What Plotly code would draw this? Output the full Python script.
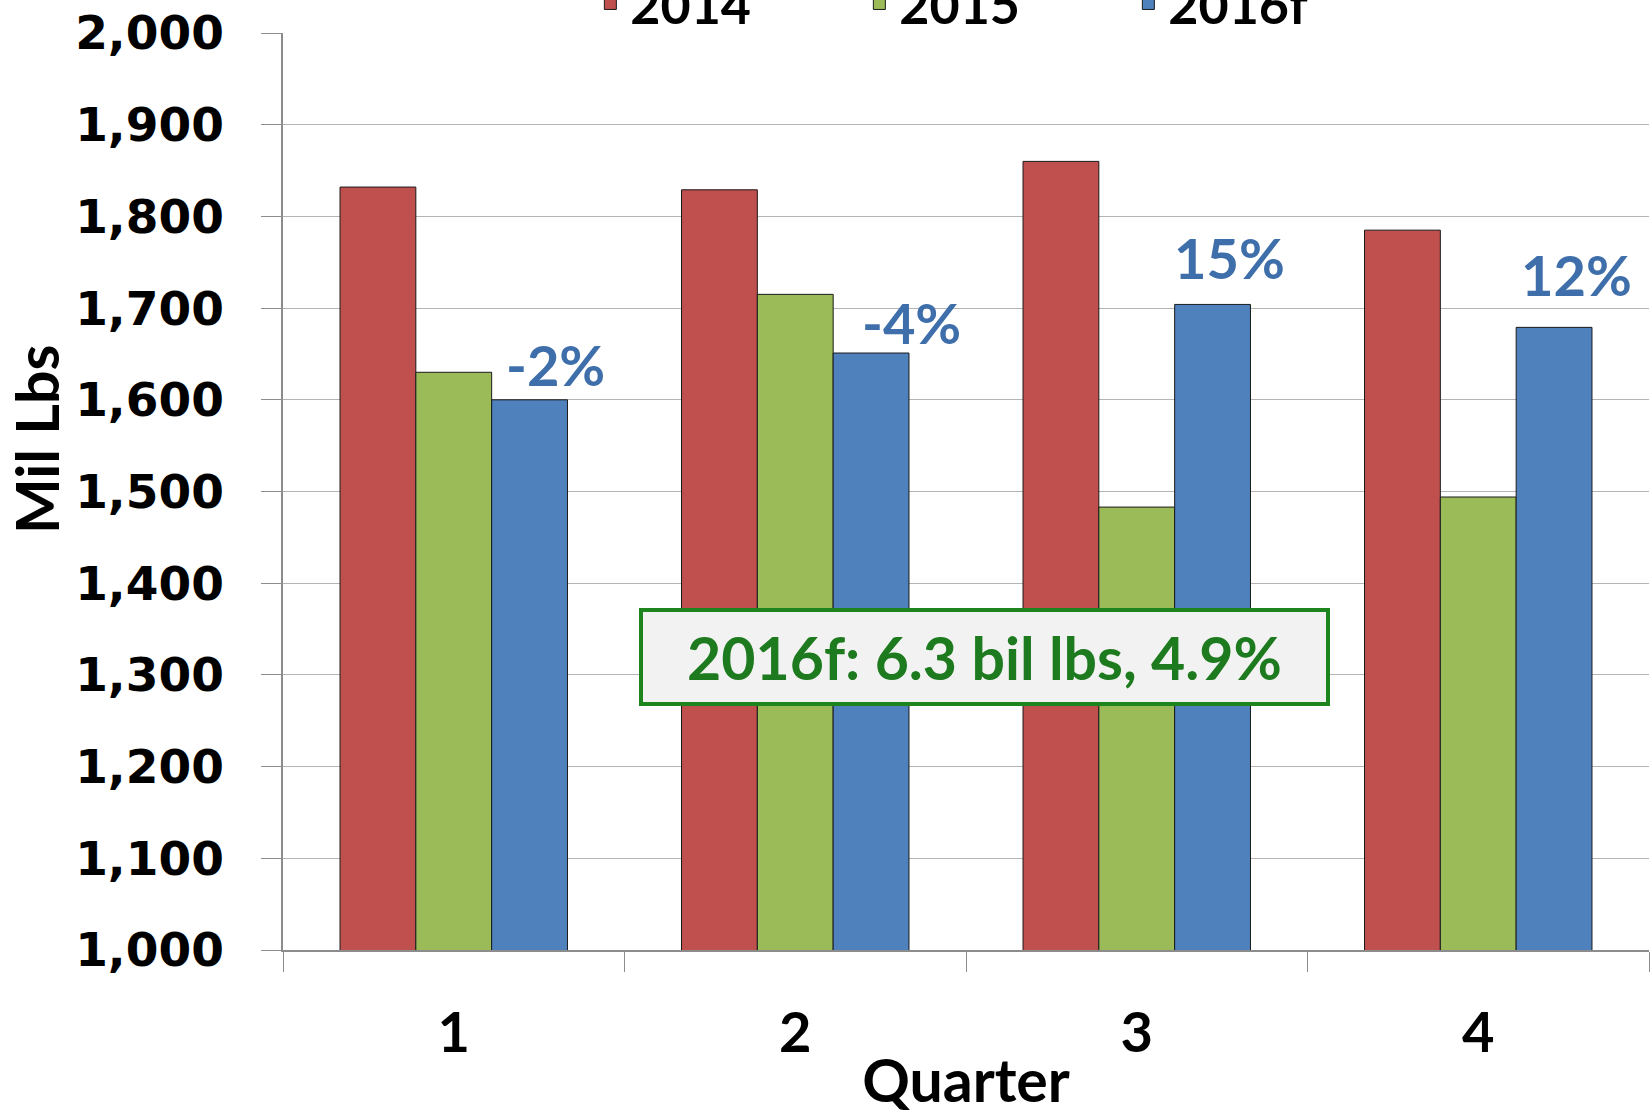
import plotly.graph_objects as go

quarters = ["1", "2", "3", "4"]
series_names = ["2014", "2015", "2016f"]
v2014 = [1832, 1829, 1860, 1785]
v2015 = [1630, 1715, 1483, 1494]
v2016 = [1600, 1651, 1704, 1679]
pct_labels = ["-2%", "-4%", "15%", "12%"]
note_text = "2016f: 6.3 bil lbs, 4.9%"

colors = ["#C0504D", "#9BBB59", "#4F81BD"]
label_shift = [(26, 35), (40, 31), (17, 47), (22, 53)]

W, H = 1651, 1115
ML, MR, MT, MB = 283, 2, 33, 165

fig = go.Figure()
for name, vals, c in zip(series_names, [v2014, v2015, v2016], colors):
    fig.add_trace(go.Bar(x=quarters, y=vals, name=name,
                         marker=dict(color=c, line=dict(color="#1a1a1a", width=1))))

annotations = []
for i, (lab, val) in enumerate(zip(pct_labels, v2016)):
    dx, dy = label_shift[i]
    annotations.append(dict(x=i + 0.222, y=val, xref="x", yref="y", text=lab,
                            showarrow=False, xshift=dx, yshift=dy,
                            font=dict(family="Lato", weight="bold", size=56, color="#3F6FAA")))

annotations.append(dict(x=1.553, y=1320, xref="x", yref="y", text=note_text,
                        showarrow=False, width=675, height=82, borderpad=4,
                        borderwidth=4, bordercolor="#1E841E", bgcolor="#F2F2F2",
                        font=dict(family="Lato", weight="bold", size=59, color="#1E7A1E")))

plot_w = W - ML - MR
plot_h = H - MT - MB
annotations.append(dict(x=(37 - ML) / plot_w, y=(H - MB - 440) / plot_h,
                        xref="paper", yref="paper", text="Mil Lbs",
                        showarrow=False, textangle=-90, xanchor="center", yanchor="middle",
                        font=dict(family="Lato", weight="bold", size=59, color="#000000")))

fig.update_layout(
    width=W, height=H,
    margin=dict(l=ML, r=MR, t=MT, b=MB, autoexpand=False),
    paper_bgcolor="white", plot_bgcolor="white",
    barmode="group", bargap=0.334, bargroupgap=0,
    showlegend=True,
    legend=dict(orientation="h", x=0.225, xanchor="left", y=1.032, yanchor="middle",
                entrywidth=224, entrywidthmode="pixels",
                font=dict(family="Lato", weight="bold", size=52, color="#000000"),
                bgcolor="rgba(0,0,0,0)"),
    annotations=annotations,
)

fig.update_xaxes(type="category", showline=True, linecolor="#8C8C8C", linewidth=1.5,
                 ticks="outside", tickson="boundaries", ticklen=20, tickcolor="#8C8C8C",
                 tickfont=dict(family="Lato", weight="bold", size=56, color="#000000"),
                 ticklabelstandoff=33,
                 title=dict(text="Quarter", standoff=16,
                            font=dict(family="Lato", weight="bold", size=59, color="#000000")),
                 showgrid=False)
fig.update_yaxes(range=[1000, 2000], dtick=100, tickformat=",", showline=True,
                 linecolor="#8C8C8C", linewidth=1.5, ticks="outside", ticklen=20,
                 tickcolor="#8C8C8C", showgrid=True, gridcolor="#B4B4B4", gridwidth=1,
                 zeroline=False, ticklabelstandoff=28,
                 tickfont=dict(family="DejaVu Sans", weight="bold", size=47, color="#000000"))

fig.write_html("out.html", config={"displayModeBar": False},
               post_script="document.body.style.margin='0';")
